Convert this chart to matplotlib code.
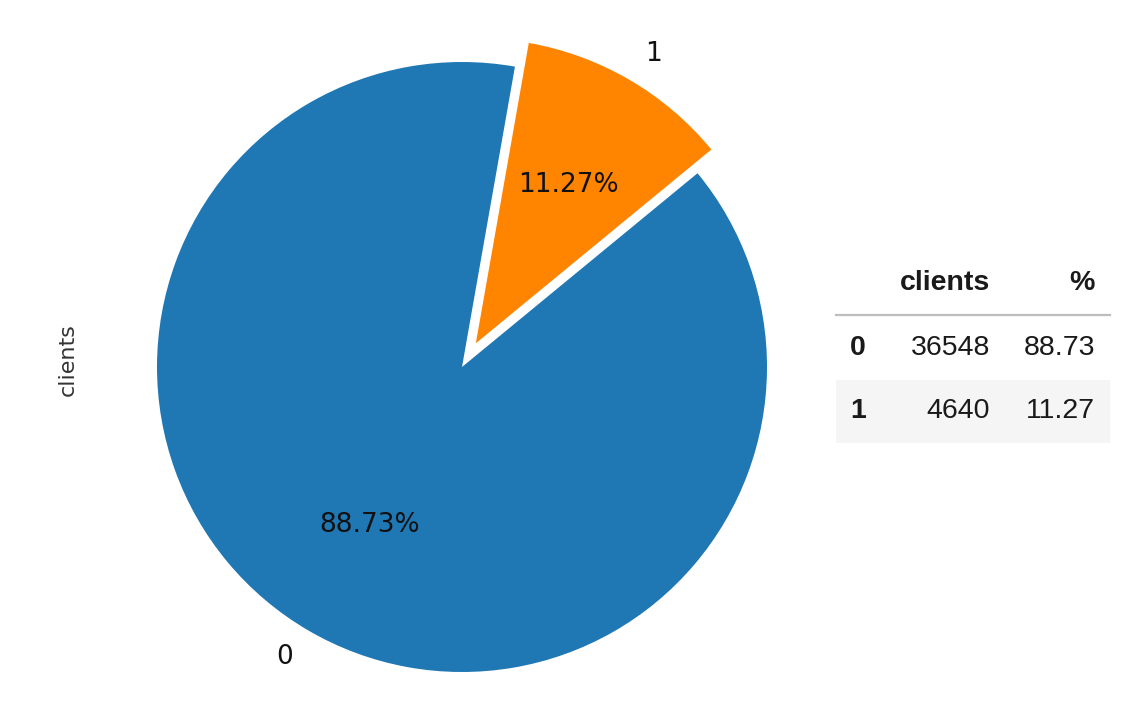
import matplotlib
matplotlib.use("Agg")
import matplotlib.pyplot as plt
from matplotlib.patches import Rectangle
from matplotlib.lines import Line2D

# data
categories = ["0", "1"]
clients = [36548, 4640]
percent = [88.73, 11.27]
table_header = ["clients", "%"]

W, H = 1140, 712
fig = plt.figure(figsize=(W / 100, H / 100), dpi=100)

def fx(px):
    return px / W

def fy(py):
    return 1 - py / H

# pie axes: center (462, 367) px, radius 305 px
R = 305
lim = 1.25
half = lim * R
cx, cy = 462, 367
ax = fig.add_axes([fx(cx - half), fy(cy + half), 2 * half / W, 2 * half / H])
wedges, texts, autotexts = ax.pie(
    clients,
    labels=categories,
    colors=["#1f77b4", "#ff8400"],
    explode=[0, 0.09],
    startangle=80,
    autopct="%.2f%%",
    textprops={"fontsize": 19, "color": "#111111", "family": "DejaVu Sans"},
)
ax.set_xlim(-lim, lim)
ax.set_ylim(-lim, lim)
ax.set_aspect("equal")
ax.set_ylabel("clients", fontsize=16, color="#333333", family="DejaVu Sans")
ax.yaxis.set_label_coords((78 - (cx - half)) / (2 * half), 0.5 + (367 - 360) / (2 * half))

# table (rendered like a DataFrame html)
tfont = "Liberation Sans"
tcol = "#1a1a1a"
fs = 20.5
# header
fig.text(fx(990), fy(283), table_header[0], ha="right", va="center", fontsize=fs,
         fontweight="bold", family=tfont, color=tcol)
fig.text(fx(1095), fy(283), table_header[1], ha="right", va="center", fontsize=fs,
         fontweight="bold", family=tfont, color=tcol)
fig.add_artist(Line2D([fx(836), fx(1110)], [fy(315), fy(315)], color="#bdbdbd", lw=1.6))
# striped row background
fig.add_artist(Rectangle((fx(836), fy(443)), fx(1110) - fx(836), fy(380) - fy(443),
                         facecolor="#f5f5f5", edgecolor="none", zorder=0))
row_y = [348, 411]
for i, cat in enumerate(categories):
    fig.text(fx(850), fy(row_y[i]), cat, ha="left", va="center", fontsize=fs,
             fontweight="bold", family=tfont, color=tcol)
    fig.text(fx(990), fy(row_y[i]), f"{clients[i]}", ha="right", va="center", fontsize=fs,
             family=tfont, color=tcol)
    fig.text(fx(1095), fy(row_y[i]), f"{percent[i]:.2f}", ha="right", va="center", fontsize=fs,
             family=tfont, color=tcol)

fig.savefig("out.png", dpi=100)
